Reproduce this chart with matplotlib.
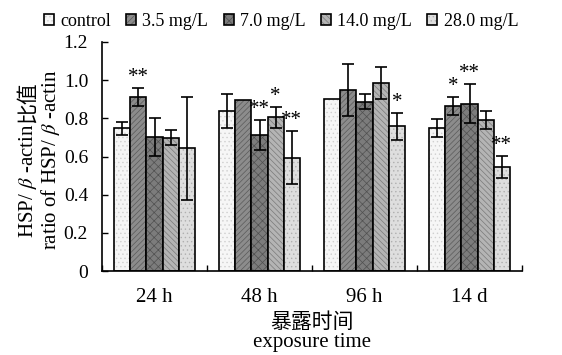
import matplotlib
matplotlib.use("Agg")
import matplotlib.pyplot as plt
import numpy as np

plt.rcParams['font.family'] = ['Liberation Serif', 'Noto Sans CJK SC']
plt.rcParams['mathtext.fontset'] = 'stix'
plt.rcParams['hatch.linewidth'] = 0.5

# data
groups = ["24 h", "48 h", "96 h", "14 d"]
series = ["control", "3.5 mg/L", "7.0 mg/L", "14.0 mg/L", "28.0 mg/L"]
control = [0.748, 0.840, 0.901, 0.751]
c35 = [0.910, 0.896, 0.950, 0.866]
c70 = [0.704, 0.711, 0.887, 0.877]
c140 = [0.699, 0.805, 0.984, 0.791]
c280 = [0.643, 0.594, 0.758, 0.547]
err_control = [0.033, 0.090, 0.0, 0.047]
err_35 = [0.047, 0.0, 0.137, 0.048]
err_70 = [0.100, 0.078, 0.040, 0.104]
err_140 = [0.041, 0.055, 0.083, 0.045]
err_280 = [0.271, 0.138, 0.072, 0.058]
stars_control = ["", "", "", ""]
stars_35 = ["**", "", "", "*"]
stars_70 = ["", "**", "", "**"]
stars_140 = ["", "*", "", ""]
stars_280 = ["", "**", "*", "**"]

values = [control, c35, c70, c140, c280]
errors = [err_control, err_35, err_70, err_140, err_280]
stars = [stars_control, stars_35, stars_70, stars_140, stars_280]
faces = ["#f6f6f6", "#8c8c8c", "#7c7c7c", "#b4b4b4", "#dedede"]
hatches = ["....", "//////", "xxxx", "\\\\\\\\\\\\", "...."]
hatch_cols = ["#d0d0d0", "#5a5a5a", "#505050", "#7a7a7a", "#b0b0b0"]

fs = 15

fig = plt.figure(figsize=(5.62, 3.55), dpi=100)
ax = fig.add_axes([0.1815, 0.2366, 0.7475, 0.6451])

x = np.arange(len(groups))
w = 0.154
handles = []
for i in range(len(series)):
    pos = x + (i - 2) * w
    b = ax.bar(pos, values[i], w, color=faces[i], edgecolor="black",
               linewidth=1.2, hatch=hatches[i], label=series[i])
    for patch in b:
        patch._hatch_color = matplotlib.colors.to_rgba(hatch_cols[i])
    handles.append(b)
    e = np.array(errors[i])
    mask = e > 0
    ax.errorbar(pos[mask], np.array(values[i])[mask], yerr=e[mask], fmt="none",
                ecolor="black", elinewidth=1.2, capsize=4, capthick=1.2)
    for j in range(len(groups)):
        if stars[i][j]:
            ax.text(pos[j], values[i][j] + errors[i][j] + 0.005, stars[i][j],
                    ha="center", va="bottom", fontsize=fs)

ax.set_xlim(-0.5, 3.5)
ax.set_ylim(0, 1.2)
ax.set_yticks(np.arange(0, 1.21, 0.2))
ax.set_yticklabels(["0", "0.2", "0.4", "0.6", "0.8", "1.0", "1.2"])
ax.set_xticks(x)
ax.set_xticklabels(groups)
ax.set_xticks(np.arange(-0.5, 3.6, 1.0), minor=True)
ax.tick_params(axis="x", which="major", length=0, labelsize=fs, pad=12)
ax.tick_params(axis="x", which="minor", direction="in", length=4, width=1)
ax.tick_params(axis="y", direction="in", length=4, width=1, labelsize=fs - 1, pad=10)
for s in ["top", "right"]:
    ax.spines[s].set_visible(False)
for s in ["left", "bottom"]:
    ax.spines[s].set_linewidth(1.2)

ax.set_xlabel("暴露时间\nexposure time", fontsize=fs, linespacing=1.0, labelpad=5)

# y label: two rotated lines, first one mixes italic beta and Chinese
t1 = fig.text(0.05, 0.3, "HSP/ $\\beta$ -actin", rotation=90, ha="center",
              va="bottom", fontsize=fs)
t2 = ax.annotate("比值", xy=(0.5, 1.0), xycoords=t1, rotation=90, ha="center",
                 va="bottom", fontsize=fs, annotation_clip=False)
t3 = fig.text(0.089, 0.55, "ratio of HSP/ $\\beta$ -actin", rotation=90,
              ha="center", va="center", fontsize=fs)

fig.legend(handles=handles, loc="upper center", bbox_to_anchor=(0.5, 0.995),
           ncol=5, frameon=False, fontsize=13, handlelength=0.55,
           handleheight=0.55, handletextpad=0.35, columnspacing=0.85,
           borderaxespad=0.2)

# centre the first label line on the axis
fig.canvas.draw()
r = fig.canvas.get_renderer()
b1 = t1.get_window_extent(r)
b2 = t2.get_window_extent(r)
total = b2.y1 - b1.y0
fig_h = fig.get_figheight() * fig.dpi
t1.set_position((0.05, 0.55 - total / 2 / fig_h))

fig.savefig("out.png", dpi=100)
